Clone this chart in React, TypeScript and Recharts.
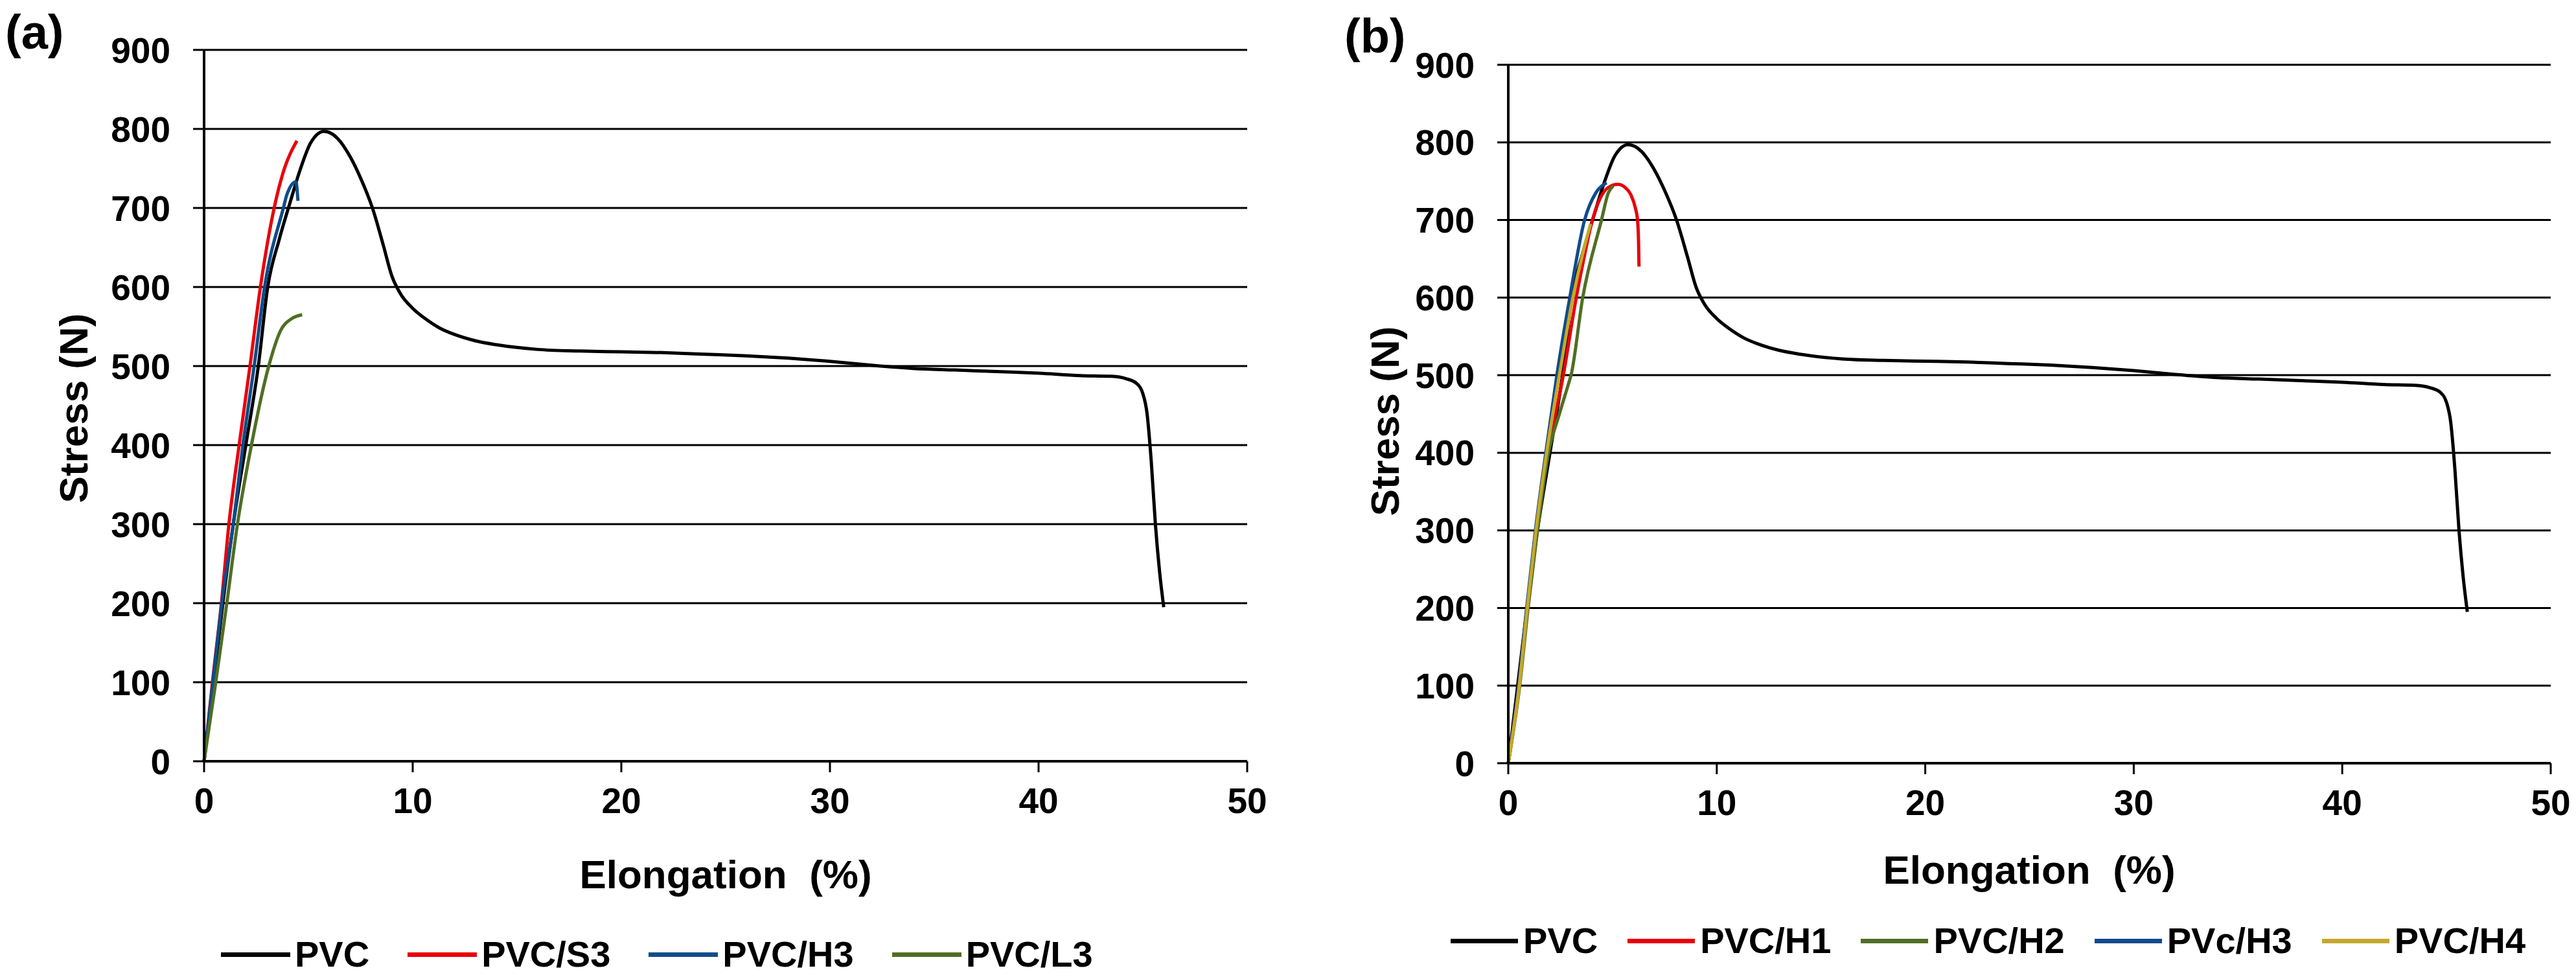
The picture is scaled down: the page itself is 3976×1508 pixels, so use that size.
import React from 'react';
import { LineChart, Line, XAxis, YAxis, CartesianGrid } from 'recharts';

// elongation (%) / stress (N)
const X_TICKS = [0, 10, 20, 30, 40, 50];
const Y_TICKS = [0, 100, 200, 300, 400, 500, 600, 700, 800, 900];

const PVC: [number, number][] = [
  [0, 0], [0.45, 100], [0.9, 200], [1.4, 300], [2.0, 400], [2.6, 500], [3.05, 600],
  [3.6, 660], [4.1, 705], [4.6, 748], [5.1, 782], [5.75, 797], [6.4, 788], [7.0, 765],
  [7.5, 738], [8.07, 700], [8.6, 652], [9.0, 614], [9.4, 592], [10, 573], [10.6, 560],
  [11.3, 548], [12, 540], [13, 532], [14, 527], [16, 521], [18, 519], [20, 518],
  [22, 517], [24, 515], [26, 513], [28, 510], [30, 506], [32, 501], [34, 497], [36, 495],
  [38, 493], [40, 491], [42, 488], [43.5, 487], [44.2, 484], [44.7, 478], [45.0, 465],
  [45.2, 440], [45.4, 380], [45.6, 300], [45.8, 240], [46.0, 195],
];
const PVC_S3: [number, number][] = [
  [0, 0], [0.4, 100], [0.83, 200], [1.19, 300], [1.68, 400], [2.2, 500], [2.7, 600],
  [3.36, 700], [3.78, 744], [4.45, 785],
];
const PVC_H3_A: [number, number][] = [
  [0, 0], [0.42, 100], [0.85, 200], [1.4, 300], [1.86, 400], [2.4, 500], [2.9, 600],
  [3.8, 700], [3.97, 717], [4.4, 733], [4.5, 709],
];
const PVC_L3: [number, number][] = [
  [0, 0], [0.56, 100], [1.09, 200], [1.6, 300], [2.27, 400], [3.1, 500], [3.67, 545],
  [4.2, 560], [4.7, 565],
];
const PVC_H1: [number, number][] = [
  [0, 0], [0.5, 100], [0.9, 200], [1.35, 300], [1.9, 400], [2.64, 500], [3.26, 600],
  [3.7, 660], [3.94, 690], [4.41, 728], [4.8, 742], [5.25, 746], [5.6, 742], [5.87, 733],
  [6.1, 715], [6.2, 700], [6.25, 670], [6.27, 640],
];
const PVC_H2: [number, number][] = [
  [0, 0], [0.55, 100], [0.95, 200], [1.4, 300], [1.93, 400], [2.45, 450], [2.9, 490],
  [3.01, 500], [3.57, 600], [4.47, 700], [4.8, 735], [5.03, 744],
];
const PVC_H3_B: [number, number][] = [
  [0, 0], [0.5, 100], [0.88, 200], [1.3, 300], [1.8, 400], [2.33, 500], [2.95, 600],
  [3.66, 700], [4.2, 735], [4.72, 748],
];
const PVC_H4: [number, number][] = [
  [0, 0], [0.53, 100], [0.91, 200], [1.33, 300], [1.84, 400], [2.45, 500], [3.1, 600],
  [3.6, 660], [3.95, 695],
];

const BLACK = '#000000';
const RED = '#e8000b';
const BLUE = '#0f4c8a';
const GREEN = '#4f6f23';
const GOLD = '#c4a82c';

type Series = { name: string; color: string; points: [number, number][] };

const SERIES_A: Series[] = [
  { name: 'PVC', color: BLACK, points: PVC },
  { name: 'PVC/S3', color: RED, points: PVC_S3 },
  { name: 'PVC/H3', color: BLUE, points: PVC_H3_A },
  { name: 'PVC/L3', color: GREEN, points: PVC_L3 },
];
const SERIES_B: Series[] = [
  { name: 'PVC', color: BLACK, points: PVC },
  { name: 'PVC/H1', color: RED, points: PVC_H1 },
  { name: 'PVC/H2', color: GREEN, points: PVC_H2 },
  { name: 'PVc/H3', color: BLUE, points: PVC_H3_B },
  { name: 'PVC/H4', color: GOLD, points: PVC_H4 },
];

const FONT = '"Liberation Sans", Arial, sans-serif';
const tickStyle = { fill: '#000', fontSize: 55, fontWeight: 'bold' as const, fontFamily: FONT };

const toRows = (pts: [number, number][]) => pts.map(([x, y]) => ({ x, y }));

interface PanelProps {
  left: number;
  width: number;
  top: number;
  bottom: number;
  right: number;
  yAxisWidth: number;
  series: Series[];
}

const Panel = ({ left, width, top, bottom, right, yAxisWidth, series }: PanelProps) => (
  <div style={{ position: 'absolute', left, top: 0 }}>
    <LineChart
      width={width}
      height={1508}
      margin={{ top, right, bottom: 1508 - bottom - 60, left: 0 }}
    >
      <CartesianGrid vertical={false} stroke="#000" strokeWidth={3} strokeOpacity={1} />
      <XAxis
        type="number"
        dataKey="x"
        domain={[0, 50]}
        ticks={X_TICKS}
        height={60}
        tickSize={17}
        tickMargin={24}
        tick={tickStyle}
        axisLine={{ stroke: '#000', strokeWidth: 4 }}
        tickLine={{ stroke: '#000', strokeWidth: 3 }}
      />
      <YAxis
        type="number"
        domain={[0, 900]}
        ticks={Y_TICKS}
        width={yAxisWidth}
        tickSize={17}
        tickMargin={35}
        tick={tickStyle}
        axisLine={{ stroke: '#000', strokeWidth: 4 }}
        tickLine={{ stroke: '#000', strokeWidth: 3 }}
      />
      {series.map((s) => (
        <Line
          key={s.name}
          data={toRows(s.points)}
          dataKey="y"
          name={s.name}
          type="monotone"
          stroke={s.color}
          strokeWidth={5}
          dot={false}
          activeDot={false}
          isAnimationActive={false}
        />
      ))}
    </LineChart>
  </div>
);

const LegendRow = ({ series, left, cy, lineLen, gap, spacing }: {
  series: Series[]; left: number; cy: number; lineLen: number; gap: number; spacing: number;
}) => (
  <div
    style={{
      position: 'absolute', left, top: cy - 40, height: 80, display: 'flex',
      alignItems: 'center', fontFamily: FONT, fontSize: 56, fontWeight: 'bold', lineHeight: 1,
      whiteSpace: 'nowrap',
    }}
  >
    {series.map((s) => (
      <div key={s.name} style={{ display: 'flex', alignItems: 'center', marginRight: spacing }}>
        <span style={{ display: 'inline-block', width: lineLen, height: 7, background: s.color, marginRight: gap }} />
        <span>{s.name}</span>
      </div>
    ))}
  </div>
);

const Label = ({ text, cx, cy, size, rotate }: { text: string; cx: number; cy: number; size: number; rotate?: boolean }) => (
  <div
    style={{
      position: 'absolute', left: cx, top: cy, fontFamily: FONT, fontSize: size, fontWeight: 'bold',
      lineHeight: 1, whiteSpace: 'pre', transform: `translate(-50%, -50%)${rotate ? ' rotate(-90deg)' : ''}`,
    }}
  >
    {text}
  </div>
);

export default function App() {
  return (
    <div style={{ position: 'absolute', left: 0, top: 0, width: 3976, height: 1508, background: '#fff', overflow: 'hidden' }}>
      <Panel left={0} width={1960} top={77} bottom={1175} right={35} yAxisWidth={315} series={SERIES_A} />
      <Panel left={1960} width={2016} top={100} bottom={1178} right={39} yAxisWidth={368} series={SERIES_B} />

      <div style={{ position: 'absolute', left: 8, top: 13, fontFamily: FONT, fontSize: 74, fontWeight: 'bold', lineHeight: 1 }}>(a)</div>
      <div style={{ position: 'absolute', left: 2075, top: 19, fontFamily: FONT, fontSize: 74, fontWeight: 'bold', lineHeight: 1 }}>(b)</div>

      <Label text="Stress (N)" cx={114} cy={630} size={62} rotate />
      <Label text="Stress (N)" cx={2138} cy={650} size={62} rotate />
      <Label text="Elongation  (%)" cx={1120} cy={1350} size={62} />
      <Label text="Elongation  (%)" cx={3132} cy={1343} size={62} />

      <LegendRow series={SERIES_A} left={341} cy={1473} lineLen={107} gap={7} spacing={59} />
      <LegendRow series={SERIES_B} left={2239} cy={1452} lineLen={104} gap={8} spacing={46} />
    </div>
  );
}
